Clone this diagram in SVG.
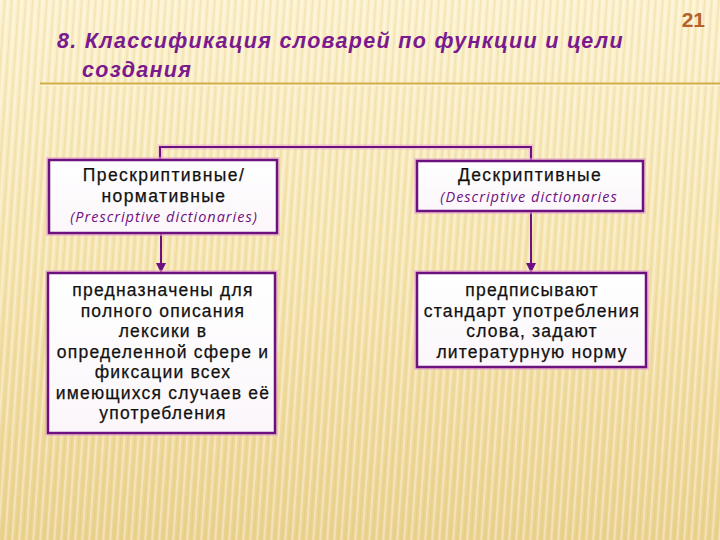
<svg xmlns="http://www.w3.org/2000/svg" width="720" height="540" viewBox="0 0 720 540">
<defs>
<linearGradient id="bg" x1="0" y1="0" x2="0" y2="1">
<stop offset="0" stop-color="#FCF1CC"/>
<stop offset="0.5" stop-color="#F6E4AE"/>
<stop offset="1" stop-color="#EBD28F"/>
</linearGradient>
<pattern id="stripes" width="7" height="540" patternUnits="userSpaceOnUse" patternTransform="skewX(-4)">
<rect x="0" y="0" width="2" height="540" fill="#FFFFFF" opacity="0.35"/>
<rect x="4" y="0" width="1.5" height="540" fill="#D9BD73" opacity="0.25"/>
</pattern>
<linearGradient id="boxfill" x1="0" y1="0" x2="0" y2="1">
<stop offset="0" stop-color="#FFFFFF"/>
<stop offset="1" stop-color="#FBF6FA"/>
</linearGradient>
<marker id="arr" viewBox="0 0 10 10" refX="9" refY="5" markerWidth="5" markerHeight="5" orient="auto">
<path d="M0,0 L10,5 L0,10 z" fill="#6E1180"/>
</marker>
<style>
.box{fill:url(#boxfill);stroke:#6E1180;stroke-width:2.5}
.halo{fill:none;stroke:#E7A8CF;stroke-width:6;opacity:0.6}
.t{font-family:"Liberation Sans",Arial,sans-serif;font-size:17.5px;fill:#111;stroke:#111;stroke-width:0.25px;text-anchor:middle;letter-spacing:1.2px}
.h{letter-spacing:1.4px}
.it{font-family:"Open Sans","DejaVu Sans",sans-serif;font-style:italic;font-size:14.5px;fill:#6E1180;text-anchor:middle;letter-spacing:1px}
.conn{fill:none;stroke:#6E1180;stroke-width:2}
.connhalo{fill:none;stroke:#E7A8CF;stroke-width:5;opacity:0.6}
</style>
</defs>
<rect width="720" height="540" fill="url(#bg)"/>
<rect width="720" height="540" fill="url(#stripes)"/>
<g id="title">
<text x="57" y="48" font-family="Liberation Sans,Arial,sans-serif" font-size="21.5px" font-weight="bold" font-style="italic" fill="#7A1A8E" letter-spacing="1.3">8. Классификация словарей по функции и цели</text>
<text x="82" y="77" font-family="Liberation Sans,Arial,sans-serif" font-size="21.5px" font-weight="bold" font-style="italic" fill="#7A1A8E" letter-spacing="1.3">создания</text>
<line x1="40" y1="83.5" x2="720" y2="83.5" stroke="#D4AE4C" stroke-width="2"/>
<line x1="40" y1="85.5" x2="720" y2="85.5" stroke="#FFF6D8" stroke-width="1"/>
</g>
<g id="page-number">
<text x="705" y="27" font-family="Liberation Sans,Arial,sans-serif" font-size="21px" font-weight="bold" fill="#B4612B" text-anchor="end">21</text>
</g>
<g id="connectors">
<path class="connhalo" d="M160,160 V147 H531 V160"/>
<path class="conn" d="M160,160 V147 H531 V160"/>
<line class="conn" x1="161" y1="233" x2="161" y2="272" marker-end="url(#arr)"/>
<line class="conn" x1="531" y1="212" x2="531" y2="272" marker-end="url(#arr)"/>
</g>
<g id="node-prescriptive">
<rect class="halo" x="49" y="160" width="228" height="73"/>
<rect class="box" x="49" y="160" width="228" height="73"/>
<text class="t h" x="164" y="181">Прескриптивные/</text>
<text class="t h" x="164" y="202">нормативные</text>
<text class="it" x="164" y="222">(Prescriptive dictionaries)</text>
</g>
<g id="node-descriptive">
<rect class="halo" x="417" y="161" width="226" height="50"/>
<rect class="box" x="417" y="161" width="226" height="50"/>
<text class="t h" x="530" y="181">Дескриптивные</text>
<text class="it" x="529" y="202">(Descriptive dictionaries</text>
</g>
<g id="node-prescriptive-desc">
<rect class="halo" x="48" y="273" width="227" height="160"/>
<rect class="box" x="48" y="273" width="227" height="160"/>
<text class="t" x="163" y="296">предназначены для</text>
<text class="t" x="163" y="316.5">полного описания</text>
<text class="t" x="163" y="337">лексики в</text>
<text class="t" x="163" y="357.5">определенной сфере и</text>
<text class="t" x="163" y="378">фиксации всех</text>
<text class="t" x="163" y="398.5">имеющихся случаев её</text>
<text class="t" x="163" y="419">употребления</text>
</g>
<g id="node-descriptive-desc">
<rect class="halo" x="417" y="273" width="229" height="94"/>
<rect class="box" x="417" y="273" width="229" height="94"/>
<text class="t" x="532" y="296">предписывают</text>
<text class="t" x="532" y="316.5">стандарт употребления</text>
<text class="t" x="532" y="337">слова, задают</text>
<text class="t" x="532" y="357.5">литературную норму</text>
</g>
</svg>
